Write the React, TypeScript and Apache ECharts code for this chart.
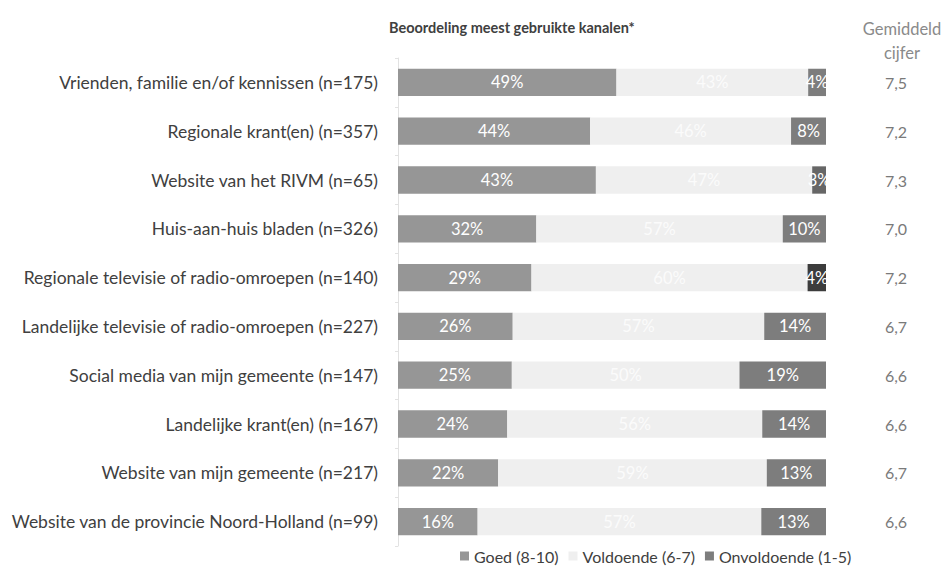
import React, { useEffect, useRef } from "react";
import * as echarts from "echarts";

const categories = [
  "Vrienden, familie en/of kennissen (n=175)",
  "Regionale krant(en) (n=357)",
  "Website van het RIVM (n=65)",
  "Huis-aan-huis bladen (n=326)",
  "Regionale televisie of radio-omroepen (n=140)",
  "Landelijke televisie of radio-omroepen (n=227)",
  "Social media van mijn gemeente (n=147)",
  "Landelijke krant(en) (n=167)",
  "Website van mijn gemeente (n=217)",
  "Website van de provincie Noord-Holland (n=99)",
];
const goed = [49, 44, 43, 32, 29, 26, 25, 24, 22, 16];
const voldoende = [43, 46, 47, 57, 60, 57, 50, 56, 59, 57];
const onvoldoende = [4, 8, 3, 10, 4, 14, 19, 14, 13, 13];
const gemiddeld = ["7,5", "7,2", "7,3", "7,0", "7,2", "6,7", "6,6", "6,6", "6,7", "6,6"];

const FONT = "Lato";
const TEXT = "#404040";
const C_GOED = "#969696";
const C_VOLD = "#efefef";
const C_ONV = "#7d7d7d";

export default function App() {
  const ref = useRef<HTMLDivElement>(null);
  useEffect(() => {
    const chart = echarts.init(ref.current!, null, { renderer: "svg" });
    const totals = categories.map((_, i) => goed[i] + voldoende[i] + onvoldoende[i]);
    const mk = (arr: number[], i: number) => (arr[i] / totals[i]) * 100;
    const onvColors = onvoldoende.map((_, i) => (i === 4 ? "#3c3c3c" : i === 2 ? "#666666" : C_ONV));
    const lbl = (color: string) => ({
      show: true,
      position: "inside" as const,
      color,
      fontFamily: FONT,
      fontSize: 16.5,
    });
    chart.setOption({
      animation: false,
      textStyle: { fontFamily: FONT },
      title: [
        {
          text: "Beoordeling meest gebruikte kanalen*",
          left: 384,
          top: 15,
          textStyle: { fontFamily: FONT, fontSize: 14.5, fontWeight: "bold", color: TEXT },
        },
        {
          text: "Gemiddeld\ncijfer",
          left: 897,
          top: 12,
          textAlign: "center",
          textStyle: { fontFamily: FONT, fontSize: 16.5, fontWeight: "normal", color: "#8a8a8a", lineHeight: 24 },
        },
      ],
      legend: {
        left: 455,
        top: 543,
        itemWidth: 9,
        itemHeight: 9,
        itemGap: 10,
        icon: "rect",
        textStyle: { fontFamily: FONT, fontSize: 16, color: TEXT },
        data: ["Goed (8-10)", "Voldoende (6-7)", "Onvoldoende (1-5)"],
      },
      grid: { left: 398, right: 116, top: 58, bottom: 29, containLabel: false },
      xAxis: { type: "value", min: 0, max: 100, show: false },
      yAxis: [
        {
          type: "category",
          inverse: true,
          data: categories,
          axisLine: { show: true, lineStyle: { color: "#e2e2e2" } },
          axisTick: { show: true, length: 3, lineStyle: { color: "#e2e2e2" } },
          axisLabel: { color: TEXT, fontFamily: FONT, fontSize: 17.5, margin: 20 },
        },
        {
          type: "category",
          inverse: true,
          position: "right",
          data: gemiddeld,
          axisLine: { show: false },
          axisTick: { show: false },
          axisLabel: { color: "#7a7a7a", fontFamily: FONT, fontSize: 16, margin: 70, align: "center" },
        },
      ],
      series: [
        {
          name: "Goed (8-10)",
          type: "bar",
          stack: "a",
          barWidth: "56%",
          itemStyle: { color: C_GOED },
          label: { ...lbl("#ffffff"), formatter: (p: any) => goed[p.dataIndex] + "%" },
          data: categories.map((_, i) => mk(goed, i)),
        },
        {
          name: "Voldoende (6-7)",
          type: "bar",
          stack: "a",
          itemStyle: { color: C_VOLD },
          label: { ...lbl("#fbfbfb"), formatter: (p: any) => voldoende[p.dataIndex] + "%" },
          data: categories.map((_, i) => mk(voldoende, i)),
        },
        {
          name: "Onvoldoende (1-5)",
          type: "bar",
          stack: "a",
          itemStyle: { color: C_ONV },
          label: { ...lbl("#ffffff"), formatter: (p: any) => onvoldoende[p.dataIndex] + "%" },
          data: categories.map((_, i) => ({ value: mk(onvoldoende, i), itemStyle: { color: onvColors[i] } })),
        },
      ],
    });
    return () => chart.dispose();
  }, []);
  return <div ref={ref} style={{ width: 942, height: 575, position: "absolute", left: 0, top: 0 }} />;
}
